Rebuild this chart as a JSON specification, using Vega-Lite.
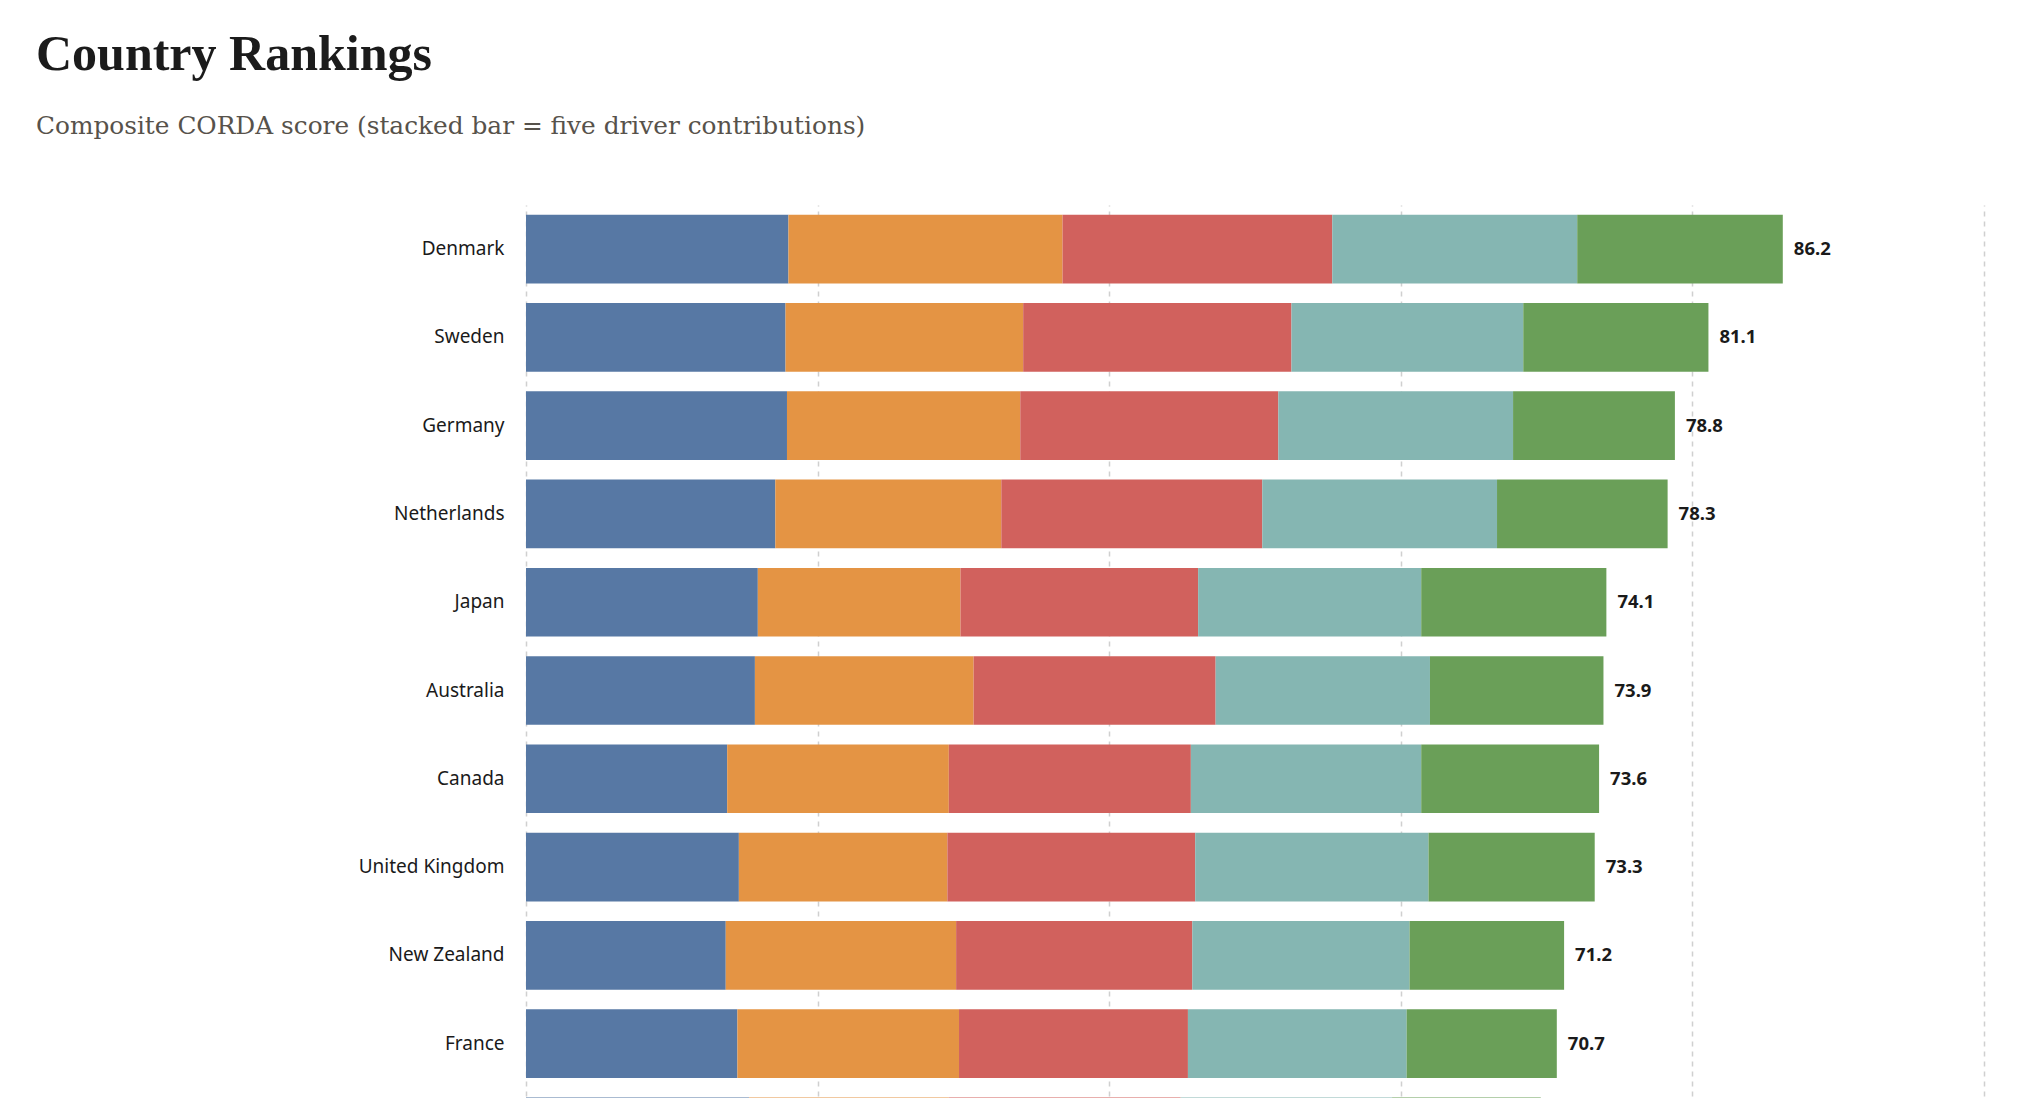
{
  "$schema": "https://vega.github.io/schema/vega-lite/v6.json",
  "width": 1458,
  "height": 971,
  "autosize": {"type": "none"},
  "padding": {"left": 526, "top": 205, "right": 42, "bottom": 80},
  "background": "#ffffff",
  "title": {
    "text": "Country Rankings",
    "subtitle": "Composite CORDA score (stacked bar = five driver contributions)",
    "anchor": "start",
    "frame": "group",
    "dx": -490,
    "offset": 66,
    "font": "Liberation Serif",
    "fontSize": 50,
    "fontWeight": "bold",
    "color": "#1b1b1b",
    "subtitleFont": "DejaVu Serif",
    "subtitleFontSize": 24.8,
    "subtitleColor": "#57524b",
    "subtitlePadding": 34
  },
  "config": {
    "view": {"stroke": null},
    "font": "Noto Sans"
  },
  "data": {
    "values": [
      {"country": "Denmark", "driver": "Driver 1", "value": 18.0},
      {"country": "Denmark", "driver": "Driver 2", "value": 18.8},
      {"country": "Denmark", "driver": "Driver 3", "value": 18.5},
      {"country": "Denmark", "driver": "Driver 4", "value": 16.8},
      {"country": "Denmark", "driver": "Driver 5", "value": 14.1},
      {"country": "Sweden", "driver": "Driver 1", "value": 17.8},
      {"country": "Sweden", "driver": "Driver 2", "value": 16.3},
      {"country": "Sweden", "driver": "Driver 3", "value": 18.4},
      {"country": "Sweden", "driver": "Driver 4", "value": 15.9},
      {"country": "Sweden", "driver": "Driver 5", "value": 12.7},
      {"country": "Germany", "driver": "Driver 1", "value": 17.9},
      {"country": "Germany", "driver": "Driver 2", "value": 16.0},
      {"country": "Germany", "driver": "Driver 3", "value": 17.7},
      {"country": "Germany", "driver": "Driver 4", "value": 16.1},
      {"country": "Germany", "driver": "Driver 5", "value": 11.1},
      {"country": "Netherlands", "driver": "Driver 1", "value": 17.1},
      {"country": "Netherlands", "driver": "Driver 2", "value": 15.5},
      {"country": "Netherlands", "driver": "Driver 3", "value": 17.9},
      {"country": "Netherlands", "driver": "Driver 4", "value": 16.1},
      {"country": "Netherlands", "driver": "Driver 5", "value": 11.7},
      {"country": "Japan", "driver": "Driver 1", "value": 15.9},
      {"country": "Japan", "driver": "Driver 2", "value": 13.9},
      {"country": "Japan", "driver": "Driver 3", "value": 16.3},
      {"country": "Japan", "driver": "Driver 4", "value": 15.3},
      {"country": "Japan", "driver": "Driver 5", "value": 12.7},
      {"country": "Australia", "driver": "Driver 1", "value": 15.7},
      {"country": "Australia", "driver": "Driver 2", "value": 15.0},
      {"country": "Australia", "driver": "Driver 3", "value": 16.6},
      {"country": "Australia", "driver": "Driver 4", "value": 14.7},
      {"country": "Australia", "driver": "Driver 5", "value": 11.9},
      {"country": "Canada", "driver": "Driver 1", "value": 13.8},
      {"country": "Canada", "driver": "Driver 2", "value": 15.2},
      {"country": "Canada", "driver": "Driver 3", "value": 16.6},
      {"country": "Canada", "driver": "Driver 4", "value": 15.8},
      {"country": "Canada", "driver": "Driver 5", "value": 12.2},
      {"country": "United Kingdom", "driver": "Driver 1", "value": 14.6},
      {"country": "United Kingdom", "driver": "Driver 2", "value": 14.3},
      {"country": "United Kingdom", "driver": "Driver 3", "value": 17.0},
      {"country": "United Kingdom", "driver": "Driver 4", "value": 16.0},
      {"country": "United Kingdom", "driver": "Driver 5", "value": 11.4},
      {"country": "New Zealand", "driver": "Driver 1", "value": 13.7},
      {"country": "New Zealand", "driver": "Driver 2", "value": 15.8},
      {"country": "New Zealand", "driver": "Driver 3", "value": 16.2},
      {"country": "New Zealand", "driver": "Driver 4", "value": 14.9},
      {"country": "New Zealand", "driver": "Driver 5", "value": 10.6},
      {"country": "France", "driver": "Driver 1", "value": 14.5},
      {"country": "France", "driver": "Driver 2", "value": 15.2},
      {"country": "France", "driver": "Driver 3", "value": 15.7},
      {"country": "France", "driver": "Driver 4", "value": 15.0},
      {"country": "France", "driver": "Driver 5", "value": 10.3},
      {"country": "Finland", "driver": "Driver 1", "value": 15.3},
      {"country": "Finland", "driver": "Driver 2", "value": 13.7},
      {"country": "Finland", "driver": "Driver 3", "value": 15.9},
      {"country": "Finland", "driver": "Driver 4", "value": 14.5},
      {"country": "Finland", "driver": "Driver 5", "value": 10.2}
    ]
  },
  "encoding": {
    "y": {
      "field": "country",
      "type": "nominal",
      "sort": ["Denmark", "Sweden", "Germany", "Netherlands", "Japan", "Australia", "Canada", "United Kingdom", "New Zealand", "France", "Finland"],
      "scale": {"paddingInner": 0.222, "paddingOuter": 0.111},
      "axis": {
        "title": null,
        "domain": false,
        "ticks": false,
        "labelPadding": 22,
        "labelFont": "Noto Sans",
        "labelFontSize": 19,
        "labelColor": "#1a1a1a"
      }
    }
  },
  "layer": [
    {
      "mark": {"type": "bar"},
      "encoding": {
        "x": {
          "field": "value",
          "type": "quantitative",
          "aggregate": "sum",
          "stack": "zero",
          "scale": {"domain": [0, 100], "nice": false},
          "axis": {
            "title": null,
            "values": [0, 20, 40, 60, 80, 100],
            "grid": true,
            "gridDash": [5, 5],
            "gridColor": "#d0d0d0",
            "gridWidth": 1.5,
            "domain": false,
            "ticks": false,
            "labels": false
          }
        },
        "color": {
          "field": "driver",
          "type": "nominal",
          "scale": {
            "domain": ["Driver 1", "Driver 2", "Driver 3", "Driver 4", "Driver 5"],
            "range": ["#5778a4", "#e49444", "#d1615d", "#85b6b2", "#6a9f58"]
          },
          "legend": null
        },
        "order": {"field": "driver", "sort": "ascending"}
      }
    },
    {
      "mark": {
        "type": "text",
        "align": "left",
        "baseline": "middle",
        "dx": 11,
        "font": "Noto Sans",
        "fontSize": 18.5,
        "fontWeight": "bold",
        "color": "#1a1a1a"
      },
      "encoding": {
        "x": {"field": "value", "type": "quantitative", "aggregate": "sum"},
        "text": {"field": "value", "type": "quantitative", "aggregate": "sum", "format": ".1f"}
      }
    }
  ]
}
